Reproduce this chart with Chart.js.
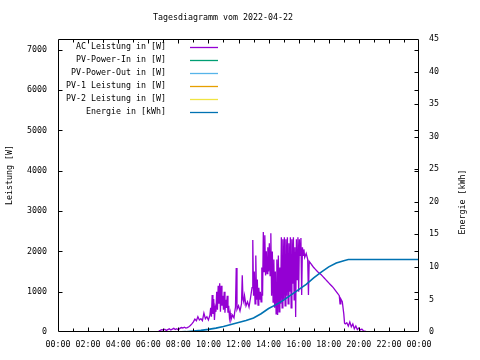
<!DOCTYPE html>
<html>
<head>
<meta charset="utf-8">
<script src="https://cdn.jsdelivr.net/npm/chart.js@4/dist/chart.umd.min.js"></script>
<style>
html,body{margin:0;padding:0;background:#fff;}
#wrap{width:480px;height:360px;position:relative;}
</style>
</head>
<body>
<div id="wrap"><canvas id="c" width="480" height="360"></canvas></div>
<script>
const chartTitle = "Tagesdiagramm vom 2022-04-22";
const yTitle = "Leistung [W]";
const y2Title = "Energie [kWh]";
const seriesLabels = ["AC Leistung in [W]","PV-Power-In in [W]","PV-Power-Out in [W]","PV-1 Leistung in [W]","PV-2 Leistung in [W]","Energie in [kWh]"];
const seriesColors = ["#9400d3","#009e73","#56b4e9","#e69f00","#f0e442","#0072b2"];
const xTickHours = [0,2,4,6,8,10,12,14,16,18,20,22,24];
const yTickWatts = [0,1000,2000,3000,4000,5000,6000,7000];
const y2TickKWh = [0,5,10,15,20,25,30,35,40,45];

// AC power: time (hours) and watts
const acHours = [6.7,6.8,6.9,7.0,7.1,7.2,7.3,7.4,7.5,7.6,7.7,7.8,7.9,8.0,8.1,8.2,8.3,8.4,8.5,8.6,8.7,8.8,8.9,9.0,9.1,9.2,9.3,9.4,9.5,9.6,9.7,9.8,9.9,10.0,
10.1,10.15,10.2,10.25,10.3,10.35,10.4,10.45,10.5,10.55,10.6,10.65,10.7,10.75,10.8,10.85,10.9,10.95,11.0,11.05,11.1,11.15,11.2,11.25,11.3,11.35,11.4,11.45,11.5,11.6,11.7,11.75,11.8,11.85,11.9,12.0,
12.1,12.2,12.25,12.3,12.35,12.4,12.5,12.6,12.7,12.8,12.9,12.95,13.0,13.05,13.1,13.15,13.2,13.25,13.3,13.35,13.4,13.45,13.5,13.55,13.6,13.65,13.7,13.75,13.8,13.85,13.9,13.95,14.0,
14.05,14.1,14.15,14.2,14.25,14.3,14.35,14.4,14.45,14.5,14.55,14.6,14.65,14.7,14.75,14.8,14.85,14.9,14.95,15.0,15.05,15.1,15.15,15.2,15.25,15.3,15.35,15.4,15.45,15.5,15.55,15.6,15.65,15.7,15.75,15.8,15.85,15.9,15.95,16.0,
16.05,16.1,16.15,16.2,16.25,16.3,16.35,16.4,16.5,16.6,16.65,16.7,16.8,16.9,17.0,17.1,17.2,17.3,17.4,17.5,17.6,17.7,17.8,17.9,18.0,18.1,18.2,18.3,18.4,18.5,18.6,18.7,18.75,18.8,18.9,19.0,
19.05,19.1,19.2,19.3,19.4,19.5,19.6,19.7,19.8,19.9,20.0,20.1,20.2,20.3,20.4,20.5,20.6];
const acWatts = [30,40,60,50,70,40,60,80,50,70,90,60,80,50,90,110,100,120,100,110,130,160,200,250,320,280,380,300,330,280,470,330,380,300,
420,600,380,920,450,820,300,600,500,1000,550,1150,700,1210,500,1150,650,900,550,1000,480,800,600,900,480,650,350,470,300,420,350,500,620,1590,560,650,
520,700,1410,800,740,900,650,750,620,850,1100,2280,900,1500,700,1900,800,1300,670,1100,800,1000,750,1600,900,2480,1500,2400,1400,2000,1450,2100,1500,
2200,1400,2450,900,2000,740,1800,600,1500,450,1800,420,1900,500,1600,700,2350,600,2300,800,2350,650,2300,900,2350,700,2200,1000,2350,600,2300,1200,2350,800,2100,370,2300,1300,2350,1000,
2300,1900,2330,920,2100,1900,2050,1850,1950,1800,920,1750,1700,1650,1600,1560,1520,1480,1450,1420,1380,1340,1300,1260,1220,1180,1140,1100,1050,1000,950,900,700,820,750,450,
220,200,230,150,250,130,200,80,150,60,100,50,70,30,20,10,0];

// Energy (kWh), cumulative
const enHours = [7.9,8.5,9.0,9.5,10.0,10.5,11.0,11.5,12.0,12.5,13.0,13.5,14.0,14.5,15.0,15.5,16.0,16.5,17.0,17.5,18.0,18.5,19.0,19.3,24.0];
const enKWh   = [0,0.05,0.15,0.25,0.4,0.6,0.85,1.15,1.45,1.75,2.15,2.8,3.6,4.2,4.9,5.7,6.5,7.3,8.3,9.2,10.0,10.6,10.95,11.13,11.13];

const FONT = "'DejaVu Sans Mono', monospace";
const FS = 8.3;

const acPoints = acHours.map((h,i)=>({x:h,y:acWatts[i]}));
const enPoints = enHours.map((h,i)=>({x:h,y:enKWh[i]}));

const datasets = [
  {label:seriesLabels[0],data:acPoints,borderColor:seriesColors[0],borderWidth:1.3,pointRadius:0,yAxisID:'y',tension:0,order:2},
  {label:seriesLabels[1],data:[],borderColor:seriesColors[1],borderWidth:1.3,pointRadius:0,yAxisID:'y'},
  {label:seriesLabels[2],data:[],borderColor:seriesColors[2],borderWidth:1.3,pointRadius:0,yAxisID:'y'},
  {label:seriesLabels[3],data:[],borderColor:seriesColors[3],borderWidth:1.3,pointRadius:0,yAxisID:'y'},
  {label:seriesLabels[4],data:[],borderColor:seriesColors[4],borderWidth:1.3,pointRadius:0,yAxisID:'y'},
  {label:seriesLabels[5],data:enPoints,borderColor:seriesColors[5],borderWidth:1.6,pointRadius:0,yAxisID:'y2',tension:0,order:1}
];

const decor = {
  id:'decor',
  afterDatasetsDraw(chart){
    const ctx = chart.ctx, a = chart.chartArea;
    const x = chart.scales.x, y = chart.scales.y, y2 = chart.scales.y2;
    ctx.save();
    ctx.strokeStyle = '#000'; ctx.lineWidth = 1;
    const L = Math.round(a.left)+0.5, R = Math.round(a.right)-0.5, T = Math.round(a.top)+0.5, B = Math.round(a.bottom)-0.5;
    ctx.beginPath();
    ctx.rect(L,T,R-L,B-T);
    for(let h=1; h<24; h++){
      const px = Math.round(x.getPixelForValue(h))+0.5;
      const len = (h%2===0)?4:3;
      ctx.moveTo(px,B); ctx.lineTo(px,B-len);
      ctx.moveTo(px,T); ctx.lineTo(px,T+len);
    }
    yTickWatts.forEach(v=>{
      if(v===0) return;
      const py = Math.round(y.getPixelForValue(v))+0.5;
      ctx.moveTo(L,py); ctx.lineTo(L+4,py);
      ctx.moveTo(R,py); ctx.lineTo(R-4,py);
    });
    y2TickKWh.forEach(v=>{
      if(v===0||v===45) return;
      const py = Math.round(y2.getPixelForValue(v))+0.5;
      ctx.moveTo(R,py); ctx.lineTo(R-4,py);
    });
    ctx.stroke();

    ctx.fillStyle = '#000';
    ctx.font = FS+'px '+FONT;
    ctx.textBaseline = 'middle';
    ctx.textAlign = 'center';
    ctx.fillText(chartTitle, 223, 18);

    ctx.save();
    ctx.translate(10, 175); ctx.rotate(-Math.PI/2);
    ctx.fillText(yTitle, 0, 0);
    ctx.restore();
    ctx.save();
    ctx.translate(463, 202); ctx.rotate(-Math.PI/2);
    ctx.fillText(y2Title, 0, 0);
    ctx.restore();

    chart.data.datasets.forEach((ds,i)=>{
      const ly = 46.7 + 13*i;
      ctx.textAlign = 'right';
      ctx.fillStyle = '#000';
      ctx.fillText(ds.label, 166, ly);
      ctx.strokeStyle = ds.borderColor;
      ctx.lineWidth = 1.3;
      ctx.beginPath();
      ctx.moveTo(190, Math.round(ly)+0.5); ctx.lineTo(218, Math.round(ly)+0.5);
      ctx.stroke();
    });
    ctx.restore();
  }
};

const pad2 = n => String(n).padStart(2,'0');
const gridOff = {display:false, drawTicks:false, tickLength:0};

new Chart(document.getElementById('c'), {
  type:'line',
  data:{datasets},
  options:{
    responsive:false,
    animation:false,
    layout:{padding:{top:39,left:0,right:0,bottom:0}},
    plugins:{legend:{display:false},title:{display:false},tooltip:{enabled:false}},
    scales:{
      x:{type:'linear',min:0,max:24,
        grid:gridOff,border:{display:false},
        afterBuildTicks(s){ s.ticks = xTickHours.map(v=>({value:v})); },
        ticks:{autoSkip:false,maxRotation:0,padding:8,color:'#000',font:{family:FONT,size:FS},
          callback:v=>pad2(v%24)+':00'},
        afterFit(s){ s.height = 28; }
      },
      y:{type:'linear',position:'left',min:0,max:7270,
        grid:gridOff,border:{display:false},
        afterBuildTicks(s){ s.ticks = yTickWatts.map(v=>({value:v})); },
        ticks:{autoSkip:false,padding:11,color:'#000',font:{family:FONT,size:FS},callback:v=>String(v)},
        afterFit(s){ s.width = 58; }
      },
      y2:{type:'linear',position:'right',min:0,max:45,
        grid:gridOff,border:{display:false},
        afterBuildTicks(s){ s.ticks = y2TickKWh.map(v=>({value:v})); },
        ticks:{autoSkip:false,padding:10,color:'#000',font:{family:FONT,size:FS},callback:v=>String(v)},
        afterFit(s){ s.width = 61; }
      }
    }
  },
  plugins:[decor]
});
</script>
</body>
</html>
